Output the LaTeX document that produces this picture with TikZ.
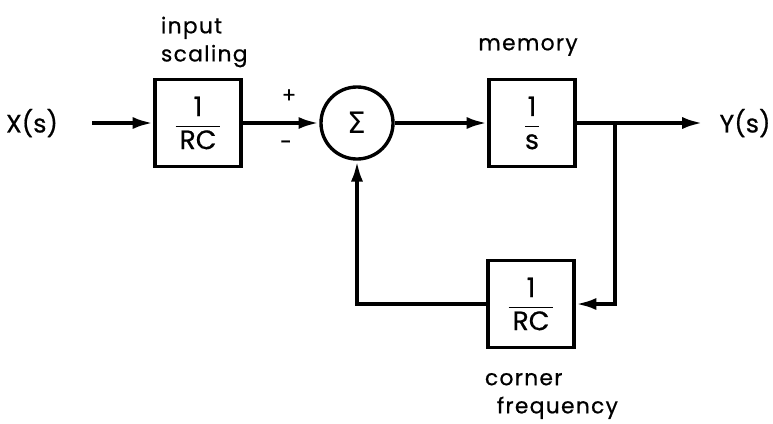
\documentclass[tikz,border=0pt]{standalone}
\usepackage{amsmath}
\usepackage{fontspec}
\setmainfont{Poppins}[FakeBold=0.6]
\newfontfamily\greekfont{DejaVu Sans}
\newfontfamily\labelfont{Poppins}[FakeBold=0.6, LetterSpace=6]
\usepackage{tikz}
\usetikzlibrary{arrows.meta,positioning,calc}
\tikzset{
    block/.style={rectangle, draw=black, line width=2.2pt, minimum width=2.15cm, minimum height=2.18cm, inner sep=0pt},
    sumnode/.style={circle, draw=black, line width=2.4pt, minimum size=1.8cm, inner sep=0pt},
    signal/.style={line width=2.8pt, -{Latex[length=5.2mm,width=3mm]}},
    sig/.style={font=\fontsize{18}{22}\selectfont},
    caption/.style={font=\labelfont\fontsize{15.5}{20}\selectfont, align=left},
    sign/.style={font=\fontsize{15}{17}\selectfont},
}

\begin{document}
\begin{tikzpicture}[x=0.025cm, y=-0.025cm]
    \useasboundingbox (0,0) rectangle (773,423);

    % Forward path
    \node[sig] (xin) at (32,123) {X(s)};
    \coordinate (start) at (92,123);
    \node[block] (scale) at (198,123) {\fontsize{19}{22}\selectfont$\displaystyle\frac{\text{1}}{\,\text{RC}\,}$};
    \node[sumnode] (sum) at (357,123) {\fontsize{21}{24}\selectfont\greekfont Σ};
    \node[block] (mem) at (532,123) {\fontsize{19}{22}\selectfont$\displaystyle\frac{\text{1}}{\text{s}}$};
    \coordinate (branch) at (615,123);
    \coordinate (out) at (703,123);
    \node[sig] (yout) at (745,123) {Y(s)};

    \draw[signal] (start) -- (scale);
    \draw[signal] (scale) -- (sum);
    \draw[signal] (sum) -- (mem);
    \draw[signal] (mem) -- (out);

    % Feedback path
    \node[block] (corner) at (531,304) {\fontsize{19}{22}\selectfont$\displaystyle\frac{\text{1}}{\,\text{RC}\,}$};
    \draw[signal] (branch) |- (corner);
    \draw[signal] (corner) -| (sum);

    % Labels
    \node[caption, anchor=west] (scalelbl) at (156,42) {input\\scaling};
    \node[caption] (memlbl) at (528,47) {memory};
    \node[caption, anchor=west] (cornerlbl) at (480,396) {corner\\\hspace*{0.3cm}frequency};
    \node[sign] (plus) at (289,96) {+};
    \node[sign] (minus) at (286,145) {-};
\end{tikzpicture}
\end{document}
